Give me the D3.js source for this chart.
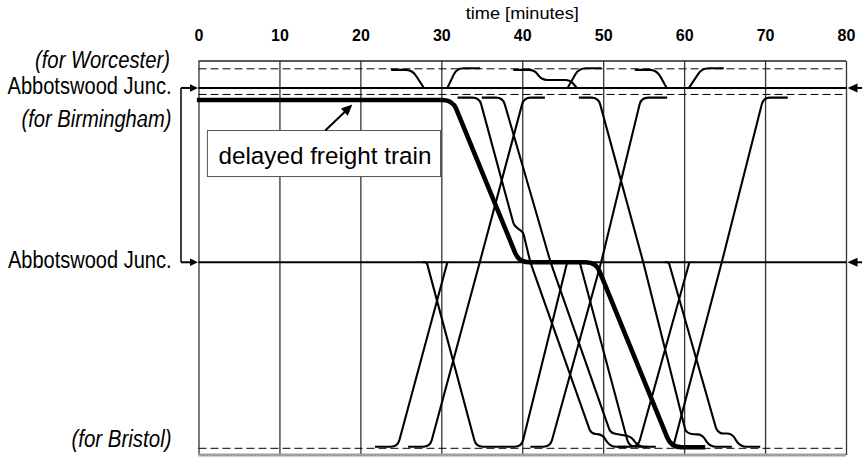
<!DOCTYPE html>
<html>
<head>
<meta charset="utf-8">
<script src="https://cdn.jsdelivr.net/npm/d3@7"></script>
<style>
  html, body { margin: 0; padding: 0; background: #fff; }
  svg { display: block; font-family: "Liberation Sans", Arial, sans-serif; }
</style>
</head>
<body>
<svg id="chart" width="862" height="459"></svg>
<script>
// ---- time axis (minutes) ----
const timeDomain = [0, 80];
const timeTicks = [0, 10, 20, 30, 40, 50, 60, 70, 80];
const axisTitle = "time [minutes]";

// ---- route positions (distance units, measured down the diagram) ----
const routeDomain = [0, 21.2];
const worcesterEnd = 0.42;
const branchJunction = 1.45;
const birminghamEnd = 1.8;
const mainJunction = 10.83;
const bristolEnd = 20.84;

const dashedTracks = [worcesterEnd, birminghamEnd, bristolEnd];
const junctionTracks = [branchJunction, mainJunction];

const labelTexts = ["(for Worcester)", "Abbotswood Junc.", "(for Birmingham)", "Abbotswood Junc.", "(for Bristol)"];
const labelTracks = [worcesterEnd, branchJunction, birminghamEnd, mainJunction, bristolEnd];

// ---- train paths: runs of [minute, position] waypoints ----
const upWorcesterA = [
  [[21.8, 20.76], [24.6, 20.76], [30.75, 10.83]],
  [[30.75, 1.45], [31.9, 0.39], [34.8, 0.39]]
];
const downWorcesterA = [
  [[23.8, 0.48], [26.4, 0.48], [27.85, 1.45]],
  [[27.6, 10.83], [28.2, 10.83], [34.3, 20.76], [37.0, 20.76]]
];
const upBirminghamA = [
  [[25.9, 20.76], [28.6, 20.76], [34.75, 10.83], [40.2, 1.97], [42.8, 1.97]]
];
const downBirminghamA = [
  [[32.0, 1.97], [34.7, 1.97], [38.95, 8.8], [39.4, 9.0], [40.1, 9.2], [41.0, 10.83],
   [48.5, 20.05], [49.9, 20.1], [50.85, 20.76], [53.0, 20.76]]
];
const downBirminghamB = [
  [[35.0, 1.97], [37.6, 1.97], [43.5, 10.83], [50.9, 20.0], [52.0, 20.1], [53.4, 20.2],
   [54.4, 20.76], [56.5, 20.76]]
];
const upWorcesterB = [
  [[37.0, 20.76], [39.9, 20.76], [45.55, 10.83]],
  [[45.6, 1.45], [47.0, 0.39], [49.8, 0.39]]
];
const downWorcesterB = [
  [[38.9, 0.48], [41.5, 0.48], [42.4, 1.02], [45.9, 1.02], [46.75, 1.45]],
  [[46.6, 10.83], [47.1, 10.83], [53.2, 20.76], [55.5, 20.76]]
];
const upBirminghamB = [
  [[41.0, 20.76], [43.45, 20.76], [49.75, 10.83], [54.7, 1.97], [57.9, 1.97]]
];
const downBirminghamC = [
  [[47.0, 1.97], [49.4, 1.97], [54.95, 10.83], [60.2, 19.95], [60.9, 20.08], [62.2, 20.1],
   [63.2, 20.76], [65.9, 20.76]]
];
const upWorcesterC = [
  [[51.8, 20.76], [54.3, 20.76], [60.65, 10.83]],
  [[60.6, 1.45], [62.2, 0.39], [64.9, 0.39]]
];
const downWorcesterC = [
  [[53.9, 0.48], [56.6, 0.48], [57.85, 1.45]],
  [[57.6, 10.83], [58.1, 10.83], [64.0, 19.85], [64.5, 20.04], [65.9, 20.04], [66.9, 20.76], [69.4, 20.76]]
];
const upBirminghamC = [
  [[58.65, 20.76], [64.65, 10.83], [69.8, 1.97], [72.8, 1.97]]
];
const delayedFreight = [[-0.2, 2.1], [31.4, 2.1], [39.6, 10.83], [49.1, 10.83], [58.4, 20.78], [62.6, 20.78]];

const annotationText = "delayed freight train";
const annotationTarget = [19.0, 2.1];

// ---------------------------------------------------------------
const svg = d3.select("#chart");
const x = d3.scaleLinear().domain(timeDomain).range([198.5, 846]);
const y = d3.scaleLinear().domain(routeDomain).range([61, 455]);
const plotTop = y(routeDomain[0]), plotBottom = y(routeDomain[1]);
const plotLeft = x(timeDomain[0]), plotRight = x(timeDomain[1]);

// polyline with rounded corners at each waypoint
function roundedCorners(radius) {
  return function (context) {
    let pts;
    return {
      areaStart() {}, areaEnd() {},
      lineStart() { pts = []; },
      point(px, py) { pts.push([+px, +py]); },
      lineEnd() {
        const n = pts.length;
        if (!n) return;
        context.moveTo(pts[0][0], pts[0][1]);
        for (let i = 1; i < n - 1; i++) {
          const [ax0, ay0] = pts[i - 1], [cx, cy] = pts[i], [nx, ny] = pts[i + 1];
          const d0 = Math.hypot(cx - ax0, cy - ay0), d1 = Math.hypot(nx - cx, ny - cy);
          const r = Math.min(radius, d0 * 0.45, d1 * 0.45);
          if (r < 0.01) { context.lineTo(cx, cy); continue; }
          context.lineTo(cx - (cx - ax0) / d0 * r, cy - (cy - ay0) / d0 * r);
          context.quadraticCurveTo(cx, cy, cx + (nx - cx) / d1 * r, cy + (ny - cy) / d1 * r);
        }
        if (n > 1) context.lineTo(pts[n - 1][0], pts[n - 1][1]);
      }
    };
  };
}

// ---- grid + time axis ----
const axis = d3.axisTop(x)
  .tickValues(timeTicks)
  .tickSizeInner(-(plotBottom - plotTop))
  .tickSizeOuter(0)
  .tickPadding(20);
const gAxis = svg.append("g").attr("transform", `translate(0,${plotTop})`).call(axis);
gAxis.select(".domain").remove();
gAxis.selectAll(".tick line").attr("stroke", "#333").attr("stroke-width", 1.3);
gAxis.selectAll(".tick text")
  .attr("fill", "#000")
  .style("font-family", "'Liberation Sans', Arial, sans-serif")
  .style("font-size", "16px")
  .style("font-weight", "bold");

svg.append("text")
  .attr("x", (plotLeft + plotRight) / 2).attr("y", 18.5)
  .attr("text-anchor", "middle")
  .attr("textLength", 113).attr("lengthAdjust", "spacingAndGlyphs")
  .style("font-size", "17px")
  .text(axisTitle);

// frame
svg.append("line").attr("x1", plotLeft).attr("x2", plotRight).attr("y1", plotTop).attr("y2", plotTop)
  .attr("stroke", "#222").attr("stroke-width", 1.5);
svg.append("line").attr("x1", plotLeft).attr("x2", plotRight).attr("y1", plotBottom).attr("y2", plotBottom)
  .attr("stroke", "#a0a0a0").attr("stroke-width", 3);

// dashed track ends
svg.append("g").selectAll("line").data(dashedTracks).join("line")
  .attr("x1", plotLeft).attr("x2", plotRight)
  .attr("y1", d => y(d)).attr("y2", d => y(d))
  .attr("stroke", "#000").attr("stroke-width", 1)
  .attr("stroke-dasharray", "8,4");

// junction lines
svg.append("g").selectAll("line").data(junctionTracks).join("line")
  .attr("x1", plotLeft).attr("x2", plotRight)
  .attr("y1", d => y(d)).attr("y2", d => y(d))
  .attr("stroke", "#000").attr("stroke-width", 2);

// ---- trains ----
const trainLine = d3.line().x(d => x(d[0])).y(d => y(d[1])).curve(roundedCorners(7));
const allRuns = [
  upWorcesterA, downWorcesterA, upBirminghamA, downBirminghamA, downBirminghamB,
  upWorcesterB, downWorcesterB, upBirminghamB, downBirminghamC, upWorcesterC,
  downWorcesterC, upBirminghamC
].flat();
svg.append("g").selectAll("path").data(allRuns).join("path")
  .attr("d", trainLine)
  .attr("fill", "none").attr("stroke", "#000").attr("stroke-width", 2.1)
  .attr("stroke-linejoin", "round");

const freightLine = d3.line().x(d => x(d[0])).y(d => y(d[1])).curve(roundedCorners(10));
svg.append("path").datum(delayedFreight)
  .attr("d", freightLine)
  .attr("fill", "none").attr("stroke", "#000").attr("stroke-width", 4.6)
  .attr("stroke-linejoin", "round");

// ---- annotation ----
const tipX = x(annotationTarget[0]), tipY = y(annotationTarget[1]) + 4.5;
const boxL = x(1.1), boxR = x(29.9), boxT = tipY + 26, boxB = boxT + 46;
svg.append("rect")
  .attr("x", boxL).attr("y", boxT).attr("width", boxR - boxL).attr("height", boxB - boxT)
  .attr("fill", "#fff").attr("stroke", "#555").attr("stroke-width", 1);
svg.append("text")
  .attr("x", (boxL + boxR) / 2 + 1).attr("y", boxT + 33)
  .attr("text-anchor", "middle")
  .attr("textLength", 213).attr("lengthAdjust", "spacingAndGlyphs")
  .style("font-size", "24.5px")
  .text(annotationText);

function arrowHead(tx, ty, fx, fy, len, half) {
  const a = Math.atan2(ty - fy, tx - fx);
  const bx = tx - Math.cos(a) * len, by = ty - Math.sin(a) * len;
  const px = -Math.sin(a) * half, py = Math.cos(a) * half;
  return `M${tx},${ty}L${bx + px},${by + py}L${bx - px},${by - py}Z`;
}
const tailX = tipX - 27, tailY = boxT;
svg.append("line").attr("x1", tailX).attr("y1", tailY).attr("x2", tipX - 5).attr("y2", tipY + 5)
  .attr("stroke", "#000").attr("stroke-width", 2);
svg.append("path").attr("d", arrowHead(tipX, tipY, tailX, tailY, 11, 5)).attr("fill", "#000");

// ---- location labels ----
const labelBaseline = [-0.8, 5.6, 32.6, 6.1, -1.2];
const labelWidth = [135, 164, 150, 163.5, 100];
const labelItalic = [true, false, true, false, true];
const labelRight = 171.5;
svg.append("g").selectAll("text").data(labelTexts).join("text")
  .attr("x", (d, i) => labelRight - (i === 0 ? 1.5 : 0))
  .attr("y", (d, i) => y(labelTracks[i]) + labelBaseline[i])
  .attr("text-anchor", "end")
  .attr("textLength", (d, i) => labelWidth[i]).attr("lengthAdjust", "spacingAndGlyphs")
  .style("font-size", "23px")
  .style("font-style", (d, i) => labelItalic[i] ? "italic" : "normal")
  .text(d => d);

// junction bracket with arrows on both sides
const bracketX = plotLeft - 17.5;
svg.append("line").attr("x1", bracketX).attr("x2", bracketX)
  .attr("y1", y(branchJunction)).attr("y2", y(mainJunction))
  .attr("stroke", "#000").attr("stroke-width", 1.5);
junctionTracks.forEach(j => {
  const jy = y(j);
  svg.append("line").attr("x1", bracketX).attr("x2", plotLeft - 6).attr("y1", jy).attr("y2", jy)
    .attr("stroke", "#000").attr("stroke-width", 2);
  svg.append("path").attr("d", arrowHead(plotLeft - 0.5, jy, bracketX, jy, 8, 3.8)).attr("fill", "#000");
  svg.append("line").attr("x1", plotRight + 8).attr("x2", 862).attr("y1", jy).attr("y2", jy)
    .attr("stroke", "#000").attr("stroke-width", 2);
  svg.append("path").attr("d", arrowHead(plotRight + 1.5, jy, 862, jy, 10, 4.5)).attr("fill", "#000");
});
</script>
</body>
</html>
